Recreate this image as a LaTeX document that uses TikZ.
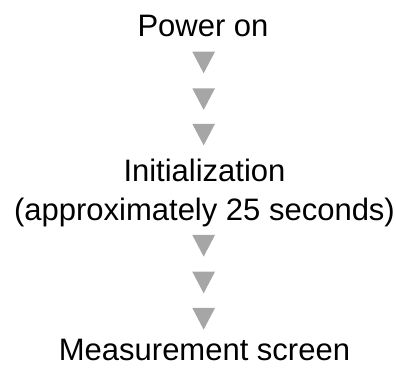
\documentclass[tikz,border=0pt]{standalone}
\usepackage{fontspec}
\setmainfont{Liberation Sans}
\usetikzlibrary{positioning}
\definecolor{trigray}{HTML}{A6A6A6}
\tikzset{
  lbl/.style={font=\fontsize{31bp}{38.5bp}\selectfont,inner sep=0pt,anchor=base,align=center},
  tri/.style={fill=trigray}
}
\begin{document}
\begin{tikzpicture}[x=1bp,y=1bp]
\useasboundingbox (0,0) rectangle (396,368);
\node[lbl] (pwr) at (203,332) {Power on};
\node[lbl] (init) at (204.5,148) {Initialization\\(approximately 25 seconds)};
\node[lbl] (meas) at (204.5,7.3) {Measurement screen};
% down marks between the steps
\foreach \y in {305.5,268.9,233.4,122.2,85.5,49.2}
  \fill[tri] (192.3,\y+10.8) -- (215,\y+10.8) -- (203.65,\y-10.8) -- cycle;
\end{tikzpicture}
\end{document}
